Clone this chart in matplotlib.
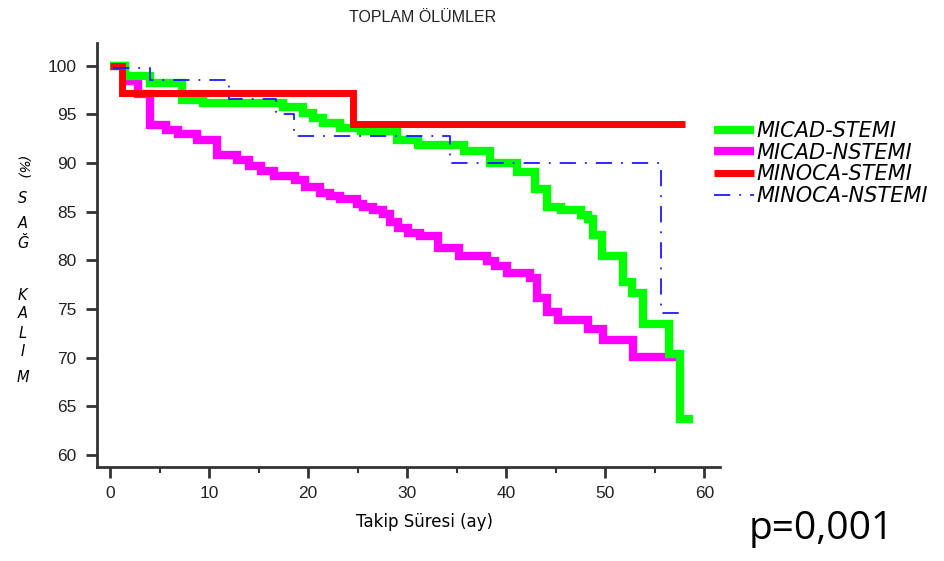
import matplotlib
matplotlib.use("Agg")
import matplotlib.pyplot as plt
from matplotlib.ticker import MultipleLocator

# Kaplan-Meier steps: each value holds from its time to the next one
micad_stemi_t = [0, 1.5, 4.0, 7.3, 9.4, 17.5, 19.5, 20.5, 21.5, 23.2, 25.3, 29.0, 31.1,
                 35.7, 38.4, 41.1, 42.9, 44.1, 45.5, 47.5, 48.2, 48.8, 49.7, 51.8, 52.7,
                 53.8, 56.4, 57.5, 58.8]
micad_stemi_v = [100, 98.9, 98.2, 96.5, 96.2, 95.7, 95.1, 94.6, 94.1, 93.6, 93.3, 92.4, 91.8,
                 91.2, 90.0, 89.1, 87.3, 85.5, 85.2, 84.7, 84.2, 82.6, 80.4, 77.8, 76.6,
                 73.5, 70.4, 63.7, 63.7]

micad_nstemi_t = [0, 1.5, 2.8, 4.0, 5.6, 6.9, 8.8, 10.8, 12.8, 14.0, 15.2, 16.5, 18.7, 19.7,
                  21.2, 22.2, 23.2, 24.9, 25.5, 26.5, 27.5, 28.3, 29.1, 30.1, 31.3, 33.1,
                  35.2, 38.1, 38.9, 40.1, 42.4, 43.1, 44.1, 45.2, 48.2, 49.8, 52.8, 57.9]
micad_nstemi_v = [100, 98.4, 97.1, 93.9, 93.4, 93.0, 92.4, 90.8, 90.3, 89.7, 89.2, 88.7, 88.2,
                  87.5, 86.9, 86.6, 86.3, 85.8, 85.5, 85.2, 84.8, 83.9, 83.3, 82.8, 82.5,
                  81.3, 80.4, 79.9, 79.4, 78.7, 78.2, 76.1, 74.7, 73.9, 72.9, 71.8, 70.1, 70.1]

minoca_stemi_t = [0, 1.2, 24.5, 58.0]
minoca_stemi_v = [100, 97.2, 94.0, 94.0]

minoca_nstemi_t = [0.3, 4.0, 12.0, 16.7, 18.6, 34.3, 55.6, 57.8]
minoca_nstemi_v = [99.8, 98.5, 96.6, 95.0, 92.8, 90.0, 74.6, 74.6]

x_ticks = [0, 10, 20, 30, 40, 50, 60]
y_ticks = [60, 65, 70, 75, 80, 85, 90, 95, 100]

fig = plt.figure(figsize=(9.44, 5.61), dpi=100)
ax = fig.add_axes([0.103, 0.168, 0.660, 0.755])

ax.step(micad_nstemi_t, micad_nstemi_v, where="post", color="#ff00ff", lw=6,
        solid_joinstyle="miter", solid_capstyle="butt", label="MICAD-NSTEMI", zorder=2)
ax.step(micad_stemi_t, micad_stemi_v, where="post", color="#00ff00", lw=6,
        solid_joinstyle="miter", solid_capstyle="butt", label="MICAD-STEMI", zorder=3)
ax.step(minoca_stemi_t, minoca_stemi_v, where="post", color="#ff0000", lw=5,
        solid_joinstyle="miter", solid_capstyle="butt", label="MINOCA-STEMI", zorder=4)
ax.step(minoca_nstemi_t, minoca_nstemi_v, where="post", color="#1a1aff", lw=1.3,
        linestyle=(0, (9, 5, 1, 5)), label="MINOCA-NSTEMI", zorder=5)

ax.set_xlim(-1.3, 61.6)
ax.set_ylim(58.8, 102.3)
ax.set_xticks(x_ticks)
ax.set_yticks(y_ticks)
ax.xaxis.set_minor_locator(MultipleLocator(5))

for s in ["top", "right"]:
    ax.spines[s].set_visible(False)
for s in ["left", "bottom"]:
    ax.spines[s].set_linewidth(2)
    ax.spines[s].set_color("#333333")
ax.tick_params(axis="both", which="major", length=8, width=2, color="#333333",
               labelsize=12.5, labelcolor="#222222", direction="out")
ax.tick_params(axis="y", which="major", pad=7)
ax.tick_params(axis="x", which="major", pad=6)
ax.tick_params(axis="x", which="minor", length=4, width=1.5, color="#333333")
for lab in ax.get_xticklabels() + ax.get_yticklabels():
    lab.set_fontfamily("Liberation Sans")

ax.set_xlabel("Takip Süresi (ay)", fontsize=12)
ax.xaxis.set_label_coords(0.525, -0.11)

fig.text(0.448, 0.968, "TOPLAM ÖLÜMLER", ha="center", va="center", fontsize=11.5,
         family="Liberation Sans", color="#222222")

# vertical stacked y label
fig.text(0.024, 0.700, "(%)", rotation=270, ha="center", va="center", fontsize=10,
         style="italic")
ylab_letters = ["S", "A", "Ğ", "K", "A", "L", "I", "M"]
ylab_y = [198, 223, 243, 295, 313, 333, 352, 378]
for ch, py in zip(ylab_letters, ylab_y):
    fig.text(0.024, 1 - py / 561, ch, ha="center", va="center", fontsize=10.5,
             style="italic")

handles, labels = ax.get_legend_handles_labels()
order = [1, 0, 2, 3]
leg = ax.legend([handles[i] for i in order], [labels[i] for i in order],
                loc="upper left", bbox_to_anchor=(0.737, 0.818),
                bbox_transform=fig.transFigure, frameon=False,
                handlelength=1.9, handletextpad=0.1, labelspacing=0.08,
                prop={"size": 15, "style": "italic"})

fig.text(0.793, 0.057, "p=0,001", fontsize=28, family="Open Sans", ha="left",
         va="center")

plt.savefig("out.png", dpi=100)
